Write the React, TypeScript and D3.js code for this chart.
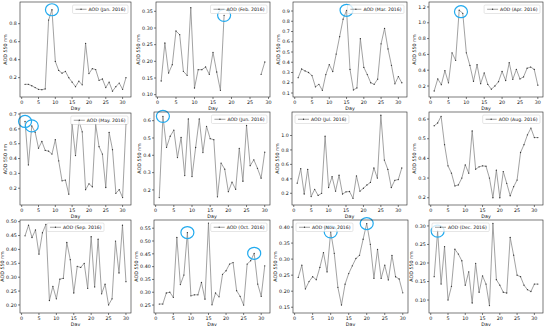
import React from "react";
import * as d3 from "d3";

const W = 550;
const H = 326;

const jan = [0.126,0.126,0.11,0.09,0.07,0.066,0.075,0.84,0.955,0.38,0.28,0.25,0.27,0.2,0.15,0.10,0.16,0.12,0.58,0.245,0.30,0.29,0.17,0.185,0.09,0.15,0.05,0.10,0.14,0.07,0.2];
const feb = [0.141,0.255,0.165,0.19,0.291,0.28,0.17,0.158,0.361,0.12,0.175,0.175,0.183,0.161,0.227,0.168,0.113,0.338,null,null,null,null,null,null,null,null,null,0.161,0.198];
const mar = [0.25,0.334,0.315,0.30,0.27,0.16,0.185,0.126,0.28,0.376,0.31,0.48,0.65,0.82,0.907,0.33,0.13,0.15,0.63,0.35,0.28,0.20,0.185,0.235,0.58,0.73,0.53,0.37,0.19,0.26,0.2];
const apr = [0.137,0.29,0.217,0.394,0.24,0.62,0.525,1.16,1.12,0.62,0.46,0.26,0.47,0.23,0.365,0.22,0.16,0.20,0.255,0.385,0.27,0.495,0.285,0.41,0.29,0.315,0.425,0.44,0.41,0.21];
const may = [0.65,0.357,0.62,0.578,0.47,0.515,0.455,0.45,0.43,0.527,0.385,0.25,0.255,0.16,0.63,0.42,0.655,0.58,0.19,0.23,0.21,0.63,0.48,0.43,0.205,0.576,0.46,0.166,0.19,0.137,0.63];
const jun = [0.156,0.625,0.446,0.51,0.545,0.387,0.503,0.283,0.61,0.277,0.445,0.61,0.416,0.567,0.496,0.49,0.16,0.355,0.32,0.19,0.245,0.204,0.44,0.25,0.572,0.34,0.374,0.325,0.268,0.418];
const jul = [0.34,0.54,0.19,0.53,0.155,0.255,0.17,0.2,0.99,0.28,0.43,0.23,0.45,0.19,0.22,0.225,0.13,0.44,0.23,0.27,0.315,0.35,0.55,0.41,1.28,0.66,0.53,0.28,0.38,0.39,0.55];
const aug = [0.566,0.58,0.614,0.47,0.362,0.325,0.26,0.265,0.3,0.367,0.325,0.54,0.345,0.357,0.362,0.36,0.30,0.2,0.34,0.2,0.333,0.273,0.21,0.256,0.29,0.43,0.47,0.52,0.554,0.506,0.506];
const sep = [0.449,0.487,0.443,0.47,0.383,0.46,0.49,0.216,0.267,0.222,0.293,0.296,0.425,0.363,0.243,0.339,0.335,0.35,0.26,0.446,0.265,0.437,0.24,0.275,0.2,0.222,0.43,0.315,0.487,0.284];
const oct = [0.254,0.254,0.297,0.3,0.28,0.514,0.33,0.367,0.533,0.286,0.29,0.29,0.338,0.273,0.57,0.251,0.297,0.282,0.37,0.384,0.41,0.416,0.306,0.284,0.25,0.41,0.423,0.452,0.332,0.284,0.403];
const nov = [0.243,0.281,0.207,0.23,0.245,0.236,0.274,0.32,0.26,0.385,0.318,0.212,0.157,0.222,0.255,0.279,0.302,0.312,0.362,0.411,0.346,0.24,0.33,0.24,0.281,0.235,0.312,0.245,0.238,0.195];
const dec = [0.163,0.286,0.143,0.244,0.1,0.137,0.237,0.224,0.206,0.14,0.176,0.092,0.199,0.121,0.165,0.143,0.085,0.307,0.155,0.14,0.121,0.119,0.269,0.221,0.167,0.163,0.14,0.128,0.123,0.143,0.143];

const seriesList = [jan, feb, mar, apr, may, jun, jul, aug, sep, oct, nov, dec];
const legendLabels = ["AOD (Jan. 2016)","AOD (Feb. 2016)","AOD (Mar. 2016)","AOD (Apr. 2016)","AOD (May. 2016)","AOD (Jun. 2016)","AOD (Jul. 2016)","AOD (Aug. 2016)","AOD (Sep. 2016)","AOD (Oct. 2016)","AOD (Nov. 2016)","AOD (Dec. 2016)"];

const xTicks = [0, 5, 10, 15, 20, 25, 30];
const yTicksJan = [0.2, 0.4, 0.6, 0.8];
const yTicksFeb = [0.10, 0.15, 0.20, 0.25, 0.30, 0.35];
const yTicksMar = [0.1, 0.2, 0.3, 0.4, 0.5, 0.6, 0.7, 0.8, 0.9];
const yTicksApr = [0.2, 0.4, 0.6, 0.8, 1.0, 1.2];
const yTicksMay = [0.2, 0.3, 0.4, 0.5, 0.6, 0.7];
const yTicksJun = [0.2, 0.3, 0.4, 0.5, 0.6];
const yTicksJul = [0.2, 0.4, 0.6, 0.8, 1.0];
const yTicksAug = [0.2, 0.3, 0.4, 0.5, 0.6];
const yTicksSep = [0.20, 0.25, 0.30, 0.35, 0.40, 0.45, 0.50];
const yTicksOct = [0.25, 0.30, 0.35, 0.40, 0.45, 0.50, 0.55];
const yTicksNov = [0.15, 0.20, 0.25, 0.30, 0.35, 0.40];
const yTicksDec = [0.10, 0.15, 0.20, 0.25, 0.30];
const yTickList = [yTicksJan, yTicksFeb, yTicksMar, yTicksApr, yTicksMay, yTicksJun, yTicksJul, yTicksAug, yTicksSep, yTicksOct, yTicksNov, yTicksDec];
const yDecimals = [1, 2, 1, 1, 1, 1, 1, 1, 2, 2, 2, 2];

// axis limits
const yDomains = [
  [-0.015, 1.041], [0.093, 0.378], [0.061, 0.988], [0.061, 1.263],
  [0.087, 0.707], [0.113, 0.650], [0.038, 1.325], [0.163, 0.636],
  [0.171, 0.506], [0.219, 0.582], [0.132, 0.422], [0.065, 0.316],
];

const highlightDays = [[9], [18], [15], [8.5], [1, 3], [2], [], [], [], [9, 28], [10, 20], [2]];

// layout: [left, right, top, bottom]
const boxes = [
  [20, 131, 2, 97], [156, 270, 2, 97], [293, 407, 2, 97], [429, 543, 2, 97],
  [20, 131, 113, 205], [154, 270, 112, 205], [292, 407, 112, 205], [429, 543, 112, 205],
  [20, 131, 220, 313], [154, 270, 220, 313], [293, 408, 220, 313], [429, 543, 220, 313],
];
const legendLoc = ["ur", "ur", "ur", "ur", "ur", "ur", "ul", "ur", "uc", "ur", "ul", "ul"];

const FONT = "DejaVu Sans, sans-serif";
const TICK_FS = 4.8;
const LEG_FS = 4.6;
const AXIS = "#222";
const LINE = "#8a8a8a";
const CIRCLE = "#22aaee";

let measureCtx: CanvasRenderingContext2D | null = null;
function textWidth(s: string, fs: number) {
  if (!measureCtx) {
    const c = document.createElement("canvas");
    measureCtx = c.getContext("2d");
  }
  if (!measureCtx) return s.length * fs * 0.6;
  measureCtx.font = `${fs}px "DejaVu Sans"`;
  return measureCtx.measureText(s).width;
}

function Panel({ i }: { i: number }) {
  const data = seriesList[i];
  const n = data.length;
  const [l, r, t, b] = boxes[i];
  const m = (n - 1) * 0.05;
  const x = d3.scaleLinear().domain([1 - m, n + m]).range([l, r]);
  const y = d3.scaleLinear().domain(yDomains[i]).range([b, t]);
  const pts = data.map((v, k) => ({ d: k + 1, v }));
  const line = d3
    .line<{ d: number; v: number | null }>()
    .defined((p) => p.v != null)
    .x((p) => x(p.d))
    .y((p) => y(p.v as number));
  const fmt = d3.format(`.${yDecimals[i]}f`);
  const yTicks = yTickList[i];
  const maxLabW = Math.max(...yTicks.map((v) => textWidth(fmt(v), TICK_FS)));
  const label = legendLabels[i];
  const lw = 16 + textWidth(label, LEG_FS) + 2.5;
  const lh = 8.5;
  let lx = r - 3 - lw;
  if (legendLoc[i] === "ul") lx = l + 3;
  if (legendLoc[i] === "uc") lx = (l + r) / 2 - lw / 2;
  const ly = t + 3;
  const valAt = (d: number) => {
    const lo = Math.floor(d), hi = Math.ceil(d);
    const a = data[lo - 1] as number, c = data[hi - 1] as number;
    return lo === hi ? a : a + (c - a) * (d - lo);
  };
  return (
    <g>
      <path d={line(pts) || ""} fill="none" stroke={LINE} strokeWidth={0.8} />
      {pts.filter((p) => p.v != null).map((p) => (
        <circle key={p.d} cx={x(p.d)} cy={y(p.v as number)} r={0.65} fill="#333" />
      ))}
      {highlightDays[i].map((d) => (
        <ellipse key={d} cx={x(d)} cy={y(valAt(d))} rx={6.5} ry={6} fill="none" stroke={CIRCLE} strokeWidth={1.2} />
      ))}
      <rect x={l} y={t} width={r - l} height={b - t} fill="none" stroke={AXIS} strokeWidth={0.6} />
      {xTicks.map((v) => (
        <g key={v}>
          <line x1={x(v)} x2={x(v)} y1={b} y2={b + 2} stroke={AXIS} strokeWidth={0.6} />
          <text x={x(v)} y={b + 7} fontSize={TICK_FS} textAnchor="middle" fontFamily={FONT} fill="#111">{v}</text>
        </g>
      ))}
      {yTicks.map((v) => (
        <g key={v}>
          <line x1={l - 2} x2={l} y1={y(v)} y2={y(v)} stroke={AXIS} strokeWidth={0.6} />
          <text x={l - 3.2} y={y(v) + 1.7} fontSize={TICK_FS} textAnchor="end" fontFamily={FONT} fill="#111">{fmt(v)}</text>
        </g>
      ))}
      <text x={(l + r) / 2} y={b + 12.5} fontSize={TICK_FS} textAnchor="middle" fontFamily={FONT} fill="#111">Day</text>
      <text
        transform={`translate(${l - 3.5 - maxLabW - 2.2},${(t + b) / 2}) rotate(-90)`}
        fontSize={TICK_FS}
        textAnchor="middle"
        fontFamily={FONT}
        fill="#111"
      >AOD 550 nm</text>
      <rect x={lx} y={ly} width={lw} height={lh} rx={1.2} fill="white" fillOpacity={0.8} stroke="#cccccc" strokeWidth={0.5} />
      <line x1={lx + 3} x2={lx + 14} y1={ly + lh / 2} y2={ly + lh / 2} stroke={LINE} strokeWidth={0.8} />
      <circle cx={lx + 8.5} cy={ly + lh / 2} r={0.65} fill="#333" />
      <text x={lx + 16} y={ly + lh / 2 + 1.6} fontSize={LEG_FS} fontFamily={FONT} fill="#111">{label}</text>
    </g>
  );
}

export default function App() {
  return (
    <svg width={W} height={H} style={{ position: "absolute", left: 0, top: 0, background: "white" }}>
      <rect x={0} y={0} width={W} height={H} fill="white" />
      {seriesList.map((_, i) => (
        <Panel key={i} i={i} />
      ))}
    </svg>
  );
}
